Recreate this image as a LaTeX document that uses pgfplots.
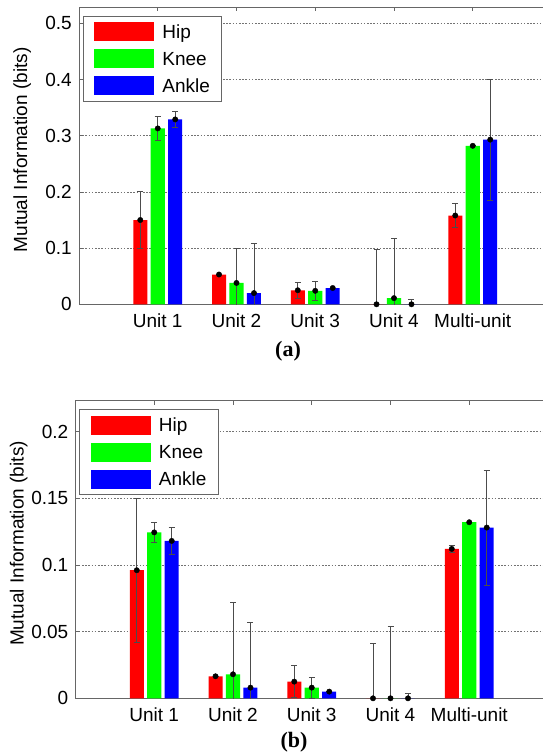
\documentclass[border=0pt]{standalone}
\usepackage{pgfplots}
\pgfplotsset{compat=1.18}
\usepackage{pgfplotstable}
\usepackage{fontspec}
\setmainfont{Liberation Sans}
\newfontfamily\captionserif{Liberation Serif}

% mean mutual information and half-width of its error bar, per joint
\pgfplotstableread{
x hip hiperr knee kneeerr ankle ankleerr
1 0.150 0.0505 0.313 0.022 0.329 0.015
2 0.053 0.000 0.038 0.061 0.020 0.089
3 0.025 0.014 0.024 0.017 0.029 0.000
4 0.000 0.097 0.011 0.107 0.000 0.008
5 0.158 0.021 0.282 0.000 0.293 0.108
}\tabA
\pgfplotstableread{
x hip hiperr knee kneeerr ankle ankleerr
1 0.096 0.054 0.1244 0.0078 0.118 0.0098
2 0.0165 0.000 0.018 0.054 0.008 0.049
3 0.0125 0.012 0.008 0.0077 0.005 0.000
4 0.000 0.041 0.000 0.054 0.000 0.004
5 0.112 0.0027 0.132 0.000 0.128 0.043
}\tabB

\definecolor{hipc}{RGB}{255,0,0}
\definecolor{kneec}{RGB}{0,255,0}
\definecolor{anklec}{RGB}{0,0,255}

\pgfplotsset{
  miaxis/.style={
    scale only axis, width=472.5bp,
    xmin=0, xmax=6, ymin=0,
    xtick={1,2,3,4,5},
    xticklabels={Unit 1,Unit 2,Unit 3,Unit 4,Multi-unit},
    tick align=inside, xtick pos=both, ytick pos=both,
    major tick length=4bp,
    axis line style={black!60, line width=0.8bp},
    tick style={black!60, line width=0.8bp},
    ymajorgrids,
    grid style={black!55, line width=0.6bp, dash pattern=on 1.6bp off 1.6bp},
    font=\fontsize{19bp}{22bp}\selectfont,
    xticklabel style={anchor=north, inner sep=0pt, yshift=-9.5bp},
    yticklabel style={anchor=east, inner sep=0pt, xshift=-7bp},
    ylabel={Mutual Information (bits)},
    every axis y label/.style={at={(axis description cs:-0.12,0.52)}, rotate=90, anchor=center},
    legend cell align=left,
    legend style={at={(0,1)}, anchor=north west, xshift=3.5bp, yshift=-8.5bp,
      draw=black!60, line width=0.8bp, fill=white,
      font=\fontsize{19bp}{22bp}\selectfont,
      inner xsep=11.5bp, inner ysep=6bp, row sep=8bp,
      nodes={inner sep=0pt, text depth=0pt},
      /tikz/every odd column/.append style={column sep=8bp}},
  },
  joint/.style={ybar, bar width=0.178, draw=none, fill=#1,
    legend image code/.code={\fill[#1] (0bp,-9.5bp) rectangle (60bp,9.5bp);}},
  errdots/.style={only marks, mark=*, mark size=2.7bp, black, forget plot,
    error bars/.cd, y dir=both, y explicit,
    error bar style={black!70, line width=0.8bp},
    error mark options={black!70, line width=0.8bp, mark size=3bp, rotate=90}},
}

\begin{document}
\begin{tikzpicture}
% (a)
\begin{axis}[miaxis, at={(79bp,-7.3bp)}, anchor=north west, height=297bp,
  ymax=0.5285, ytick={0,0.1,0.2,0.3,0.4,0.5},
  yticklabels={0,0.1,0.2,0.3,0.4,0.5}]
  \addplot[joint=hipc, bar shift=-0.222] table[x=x, y=hip] {\tabA};
  \addplot[joint=kneec, bar shift=0] table[x=x, y=knee] {\tabA};
  \addplot[joint=anklec, bar shift=0.222] table[x=x, y=ankle] {\tabA};
  \legend{Hip,Knee,Ankle}
  \addplot[errdots] table[x expr=\thisrow{x}-0.222, y=hip, y error=hiperr] {\tabA};
  \addplot[errdots] table[x=x, y=knee, y error=kneeerr] {\tabA};
  \addplot[errdots] table[x expr=\thisrow{x}+0.222, y=ankle, y error=ankleerr] {\tabA};
\end{axis}
% (b)
\begin{axis}[miaxis, at={(75.5bp,-400.7bp)}, anchor=north west, height=297.6bp,
  ymax=0.2231, ytick={0,0.05,0.1,0.15,0.2},
  yticklabels={0,0.05,0.1,0.15,0.2}]
  \addplot[joint=hipc, bar shift=-0.222] table[x=x, y=hip] {\tabB};
  \addplot[joint=kneec, bar shift=0] table[x=x, y=knee] {\tabB};
  \addplot[joint=anklec, bar shift=0.222] table[x=x, y=ankle] {\tabB};
  \legend{Hip,Knee,Ankle}
  \addplot[errdots] table[x expr=\thisrow{x}-0.222, y=hip, y error=hiperr] {\tabB};
  \addplot[errdots] table[x=x, y=knee, y error=kneeerr] {\tabB};
  \addplot[errdots] table[x expr=\thisrow{x}+0.222, y=ankle, y error=ankleerr] {\tabB};
\end{axis}
\node[font=\captionserif\bfseries\fontsize{22bp}{24bp}\selectfont] at (288bp,-351bp) {(a)};
\node[font=\captionserif\bfseries\fontsize{22bp}{24bp}\selectfont] at (294bp,-741.7bp) {(b)};
\pgfresetboundingbox
\path (0bp,0bp) rectangle (543bp,-755bp);
\end{tikzpicture}
\end{document}
